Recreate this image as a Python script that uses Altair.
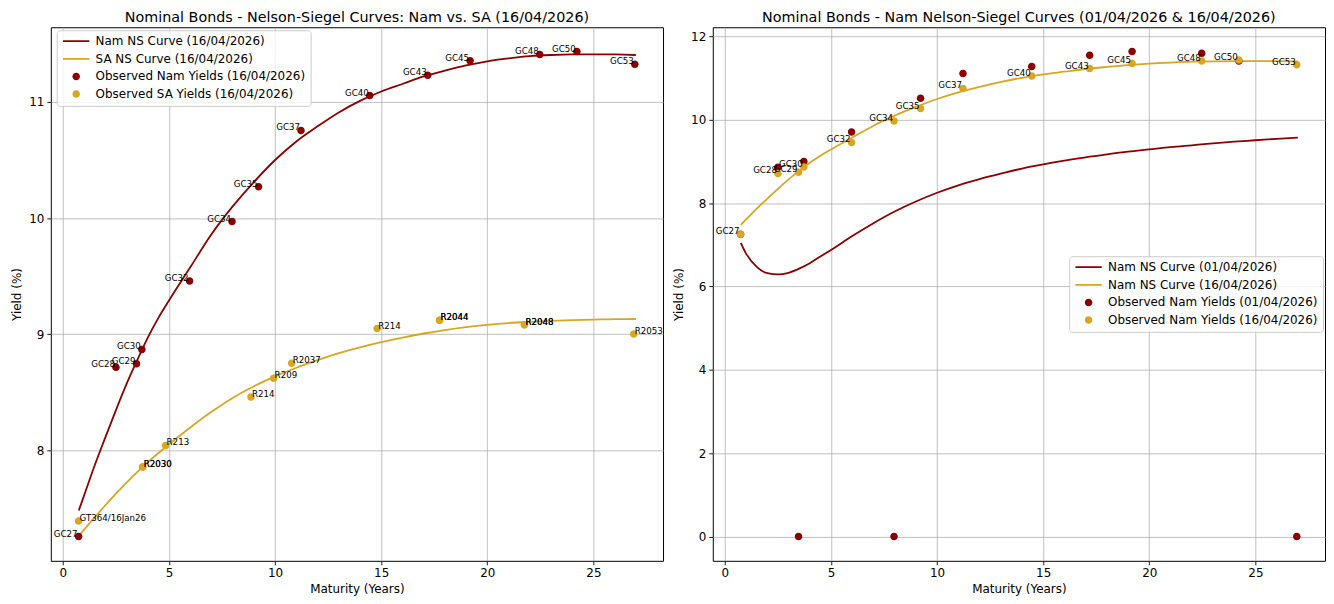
import altair as alt
import pandas as pd

DARK = "#8B0000"
GOLD = "#DAA520"
FONT = "DejaVu Sans"

# ---------------- data ----------------
curve_t = [0.75, 1, 1.5, 2, 2.5, 3, 3.5, 4, 4.5, 5, 6, 7, 8, 9, 10, 11, 12, 13, 14, 15,
           16, 17, 18, 19, 20, 21, 22, 23, 24, 25, 26, 27]
nam_curve_1604 = [7.48, 7.61, 7.87, 8.11, 8.345, 8.57, 8.775, 8.97, 9.14, 9.29, 9.575, 9.86,
                  10.10, 10.31, 10.50, 10.66, 10.79, 10.91, 11.01, 11.09, 11.155, 11.22,
                  11.27, 11.315, 11.35, 11.375, 11.395, 11.405, 11.41, 11.41, 11.41, 11.405]
sa_curve_1604 = [7.26, 7.315, 7.42, 7.525, 7.625, 7.72, 7.81, 7.895, 7.975, 8.05, 8.195, 8.33,
                 8.45, 8.55, 8.635, 8.71, 8.775, 8.835, 8.885, 8.93, 8.97, 9.005, 9.035, 9.06,
                 9.08, 9.095, 9.105, 9.113, 9.12, 9.125, 9.128, 9.13]
nam_curve_0104 = [7.05, 6.79, 6.47, 6.32, 6.29, 6.33, 6.43, 6.56, 6.72, 6.875, 7.21, 7.52,
                  7.80, 8.04, 8.25, 8.43, 8.58, 8.71, 8.83, 8.93, 9.02, 9.10, 9.17, 9.235,
                  9.29, 9.345, 9.39, 9.435, 9.475, 9.51, 9.545, 9.575]

nam_bonds = ["GC27", "GC28", "GC29", "GC30", "GC32", "GC34", "GC35", "GC37", "GC40",
             "GC43", "GC45", "GC48", "GC50", "GC53"]
nam_maturity = [0.74, 2.5, 3.47, 3.72, 5.97, 7.97, 9.22, 11.22, 14.46, 17.19, 19.19,
                22.47, 24.22, 26.95]
nam_yield_1604 = [7.255, 8.715, 8.745, 8.868, 9.457, 9.97, 10.27, 10.755, 11.055, 11.23,
                  11.355, 11.41, 11.435, 11.325]
nam_yield_0104 = [7.255, 8.86, 0.0, 9.0, 9.71, 0.0, 10.52, 11.11, 11.28, 11.55, 11.64,
                  11.60, 11.41, 0.0]

sa_bonds = ["GT364/16Jan26", "R2030", "R2030", "R213", "R214", "R209", "R2037", "R214",
            "R2044", "R2044", "R2048", "R2048", "R2053"]
sa_maturity = [0.74, 3.76, 3.76, 4.84, 8.86, 9.93, 10.78, 14.81, 17.75, 17.75, 21.75,
               21.75, 26.9]
sa_yield = [7.39, 7.855, 7.855, 8.04, 8.457, 8.62, 8.748, 9.048, 9.12, 9.12, 9.08, 9.08, 9.0]

x_ticks = [0, 5, 10, 15, 20, 25]
y_ticks_left = [8, 9, 10, 11]
y_ticks_right = [0, 2, 4, 6, 8, 10, 12]

left_title = "Nominal Bonds - Nelson-Siegel Curves: Nam vs. SA (16/04/2026)"
right_title = "Nominal Bonds - Nam Nelson-Siegel Curves (01/04/2026 & 16/04/2026)"
left_series = ["Nam NS Curve (16/04/2026)", "SA NS Curve (16/04/2026)",
               "Observed Nam Yields (16/04/2026)", "Observed SA Yields (16/04/2026)"]
right_series = ["Nam NS Curve (01/04/2026)", "Nam NS Curve (16/04/2026)",
                "Observed Nam Yields (01/04/2026)", "Observed Nam Yields (16/04/2026)"]

# ---------------- tables ----------------
left_lines = pd.concat([
    pd.DataFrame({"t": curve_t, "y": nam_curve_1604, "series": left_series[0]}),
    pd.DataFrame({"t": curve_t, "y": sa_curve_1604, "series": left_series[1]}),
])
left_pts = pd.concat([
    pd.DataFrame({"t": nam_maturity, "y": nam_yield_1604, "series": left_series[2], "name": nam_bonds}),
    pd.DataFrame({"t": sa_maturity, "y": sa_yield, "series": left_series[3], "name": sa_bonds}),
])
left_nam_lbl = pd.DataFrame({"t": nam_maturity, "y": nam_yield_1604, "name": nam_bonds})
left_sa_lbl = pd.DataFrame({"t": sa_maturity, "y": sa_yield, "name": sa_bonds})

right_lines = pd.concat([
    pd.DataFrame({"t": curve_t, "y": nam_curve_0104, "series": right_series[0]}),
    pd.DataFrame({"t": curve_t, "y": nam_curve_1604, "series": right_series[1]}),
])
right_pts = pd.concat([
    pd.DataFrame({"t": nam_maturity, "y": nam_yield_0104, "series": right_series[2], "name": nam_bonds}),
    pd.DataFrame({"t": nam_maturity, "y": nam_yield_1604, "series": right_series[3], "name": nam_bonds}),
])
right_lbl = pd.DataFrame({"t": nam_maturity, "y": nam_yield_1604, "name": nam_bonds})

x_scale = alt.Scale(domain=[-0.57, 28.28], nice=False, zero=False)
SMALL_DOT = "M0.285,0A0.285,0.285,0,1,1,-0.285,0A0.285,0.285,0,1,1,0.285,0Z"
SYM = 700


def legend(**kw):
    return alt.Legend(
        title=None, orient="none",
        labelFont=FONT, labelFontSize=12, labelColor="black", labelLimit=400,
        padding=5, cornerRadius=3, strokeColor="#cccccc",
        fillColor="rgba(255,255,255,0.8)",
        symbolSize=SYM, labelOffset=5, clipHeight=12, rowPadding=5.7,
        symbolStrokeWidth=1.8,
        **kw,
    )


def panel(lines, pts, labels_right, labels_left, series, y_dom, y_ticks, leg, title):
    xe = alt.X("t:Q", scale=x_scale,
               axis=alt.Axis(values=x_ticks, title="Maturity (Years)"))
    ye = alt.Y("y:Q", scale=alt.Scale(domain=y_dom, nice=False, zero=False),
               axis=alt.Axis(values=y_ticks, title="Yield (%)"))
    stroke = alt.Stroke("series:N", scale=alt.Scale(
        domain=series, range=[DARK, GOLD, "transparent", "transparent"]), legend=leg)
    fill = alt.Fill("series:N", scale=alt.Scale(
        domain=series, range=["transparent", "transparent", DARK, GOLD]), legend=leg)
    shape = alt.Shape("series:N", scale=alt.Scale(
        domain=series, range=["stroke", "stroke", SMALL_DOT, SMALL_DOT]), legend=leg)
    layers = [
        alt.Chart(lines).mark_line(strokeWidth=1.8, interpolate="monotone").encode(
            x=xe, y=ye, stroke=stroke),
        alt.Chart(pts).mark_point(filled=True, opacity=1, size=SYM, strokeWidth=0).encode(
            x=xe, y=ye, fill=fill, stroke=stroke, shape=shape),
    ]
    txt = dict(fontSize=8.7, font=FONT, color="black", baseline="alphabetic")
    if labels_right is not None:
        layers.append(alt.Chart(labels_right).mark_text(align="right", dx=-1, **txt).encode(
            x=xe, y=ye, text="name:N"))
    if labels_left is not None:
        layers.append(alt.Chart(labels_left).mark_text(align="left", dx=1, **txt).encode(
            x=xe, y=ye, text="name:N"))
    return alt.layer(*layers).properties(
        width=615, height=536,
        title=alt.TitleParams(title, fontSize=14.4, font=FONT, fontWeight="normal",
                              color="black", offset=2, baseline="top"),
    )


left = panel(left_lines, left_pts, left_nam_lbl, left_sa_lbl, left_series,
             [7.046, 11.644], y_ticks_left,
             legend(legendX=6, legendY=3), left_title)
right = panel(right_lines, right_pts, right_lbl, None, right_series,
              [-0.582, 12.222], y_ticks_right,
              legend(legendX=358, legendY=230), right_title)

chart = alt.hconcat(left, right, spacing=8).resolve_scale(
    stroke="independent", fill="independent", shape="independent",
    x="independent", y="independent"
).resolve_legend(
    stroke="independent", fill="independent", shape="independent"
).properties(
    padding={"left": 2, "top": 0, "right": 0, "bottom": 0}, background="white"
).configure_axis(
    labelFont=FONT, labelFontSize=12, labelColor="black",
    titleFont=FONT, titleFontSize=12, titleFontWeight="normal", titleColor="black",
    tickColor="black", tickSize=4, tickWidth=0.9, labelPadding=3, titlePadding=5,
    domain=False, gridColor="#b0b0b0", gridWidth=0.8,
).configure_view(stroke="black", strokeWidth=1)

chart.save("out.html", embed_options={"renderer": "svg", "actions": False})
